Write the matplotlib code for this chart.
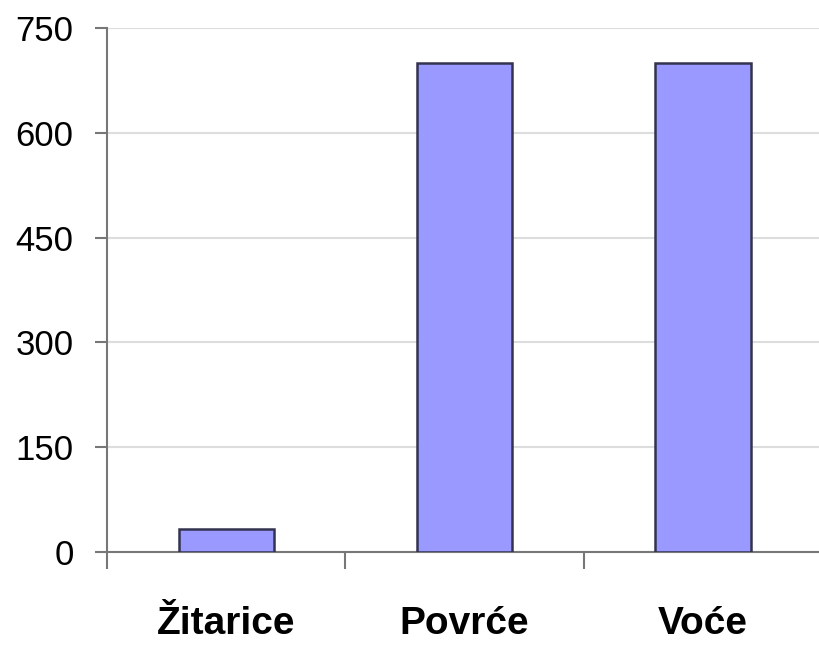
# bar chart: Žitarice, Povrće, Voće
import matplotlib.pyplot as plt
import numpy as np

categories = ['Žitarice', 'Povrće', 'Voće']
values = [33, 700, 700]
y_ticks = [0, 150, 300, 450, 600, 750]

plt.rcParams['font.family'] = ['Liberation Sans', 'DejaVu Sans']

fig = plt.figure(figsize=(8.19, 6.46), dpi=100)
ax = fig.add_axes([107 / 819, 94 / 646, 715 / 819, 524 / 646])

x = np.arange(len(categories))
ax.bar(x, values, width=0.4, color='#9999ff', edgecolor='#333350', linewidth=1.8, zorder=3)

ax.set_xlim(-0.5, len(categories) - 0.5)
ax.set_ylim(0, 750)
ax.set_yticks(y_ticks)
ax.set_yticklabels([str(v) for v in y_ticks], fontsize=25)
ax.yaxis.grid(True, color='#dddddd', linewidth=1.5, zorder=0)

# category labels centered, ticks at the boundaries
ax.set_xticks(x)
ax.set_xticklabels(categories, fontsize=28, fontweight='bold')
ax.tick_params(axis='x', which='major', length=0, pad=39)
ax.set_xticks(np.arange(-0.5, len(categories), 1.0), minor=True)
ax.tick_params(axis='x', which='minor', length=12, width=1.5, color='#777777', direction='out')
ax.tick_params(axis='y', length=9, width=1.5, color='#777777', pad=15)

for side in ['top', 'right']:
    ax.spines[side].set_visible(False)
ax.spines['left'].set_color('#777777')
ax.spines['left'].set_linewidth(1.5)
ax.spines['bottom'].set_color('#777777')
ax.spines['bottom'].set_linewidth(1.5)

fig.savefig('out.png', dpi=100)
